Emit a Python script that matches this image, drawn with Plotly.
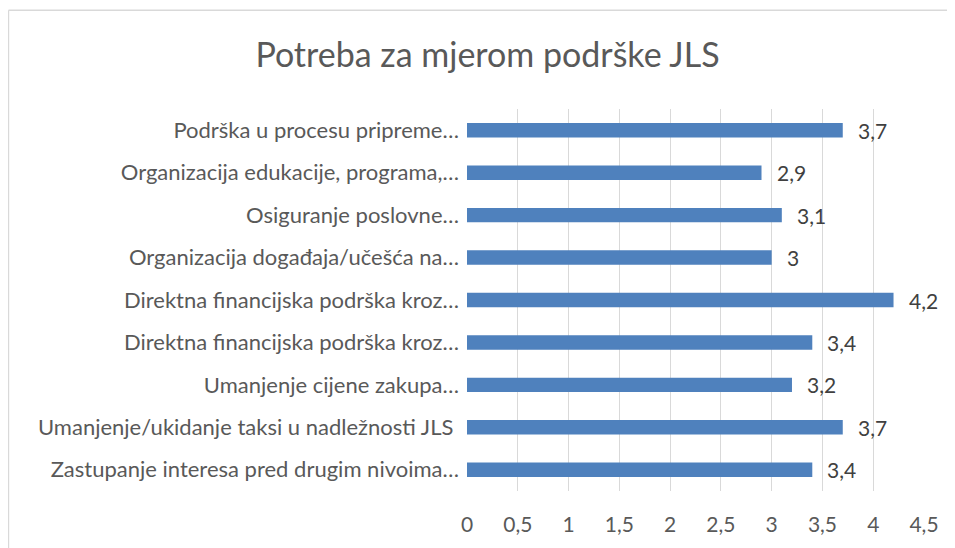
import plotly.graph_objects as go

categories = [
    "Podrška u procesu pripreme…",
    "Organizacija edukacije, programa,…",
    "Osiguranje poslovne…",
    "Organizacija događaja/učešća na…",
    "Direktna financijska podrška kroz…",
    "Direktna financijska podrška kroz…​",
    "Umanjenje cijene zakupa…",
    "Umanjenje/ukidanje taksi u nadležnosti JLS ",
    "Zastupanje interesa pred drugim nivoima…",
]
values = [3.7, 2.9, 3.1, 3.0, 4.2, 3.4, 3.2, 3.7, 3.4]
tick_vals = [0, 0.5, 1, 1.5, 2, 2.5, 3, 3.5, 4, 4.5]
title_text = "Potreba za mjerom podrške JLS"

# page body has an 8px margin; figure coordinates are page coordinates - 8
OFF = 8
W, H = 955 - OFF, 548 - OFF
ML, MR, MT, MB = 467 - OFF, 31, 109 - OFF, 55
PW, PH = W - ML - MR, H - MT - MB

FONT = "Lato, 'Open Sans', sans-serif"

fig = go.Figure()
fig.add_trace(go.Bar(
    x=values, y=categories, orientation="h",
    marker=dict(color="#4F81BD", line=dict(width=0)),
    hoverinfo="skip",
))

for v, c in zip(values, categories):
    fig.add_annotation(
        x=v, y=c, text=f"{v:g}".replace(".", ","), showarrow=False,
        xanchor="left", xshift=13, font=dict(family=FONT, size=21, color="#404040"),
    )

def px_x(p):
    return (p - OFF - ML) / PW

def px_y(p):
    return (H - MB - (p - OFF)) / PH

fig.add_shape(type="line", xref="paper", yref="paper",
              x0=px_x(8.5), x1=px_x(8.5), y0=px_y(9.8), y1=px_y(600),
              line=dict(color="#d9d9d9", width=1.4))
fig.add_shape(type="line", xref="paper", yref="paper",
              x0=px_x(8.5), x1=px_x(1000), y0=px_y(9.8), y1=px_y(9.8),
              line=dict(color="#d9d9d9", width=1.4))

fig.update_layout(
    width=W, height=H,
    margin=dict(l=ML, r=MR, t=MT, b=MB, pad=0),
    paper_bgcolor="white", plot_bgcolor="white",
    separators=",.",
    showlegend=False,
    bargap=0.66,
    title=dict(text=title_text, x=(487.5 - OFF) / W, xanchor="center",
               y=1 - (55 - OFF) / H, yanchor="middle", yref="container",
               font=dict(family=FONT, size=34, color="#595959")),
    xaxis=dict(range=[0, 4.5], tickvals=tick_vals, showgrid=True,
               gridcolor="#d9d9d9", gridwidth=1.3, zeroline=False,
               showline=False, ticks="", ticklabelstandoff=19,
               tickfont=dict(family=FONT, size=21, color="#595959")),
    yaxis=dict(autorange="reversed", showgrid=False, zeroline=False,
               showline=False, ticks="", ticklabelstandoff=7,
               tickfont=dict(family=FONT, size=22, color="#595959")),
)

fig.write_html("out.html")
